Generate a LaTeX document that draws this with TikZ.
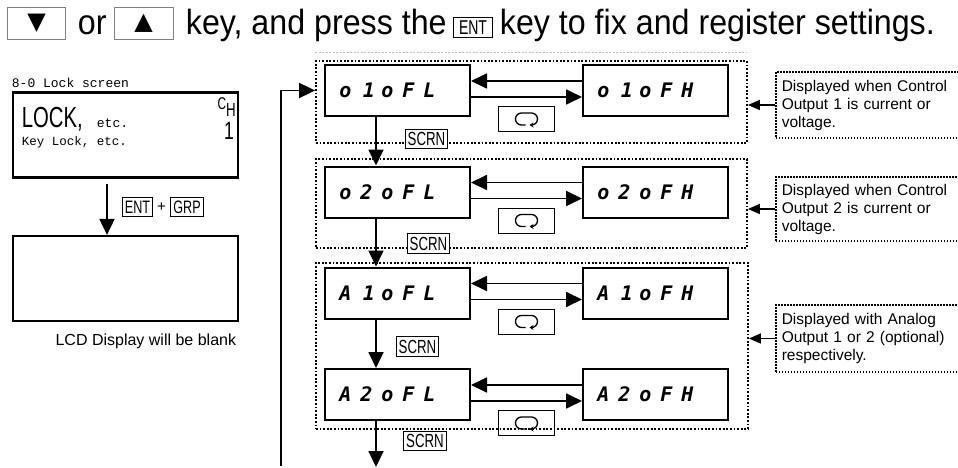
\documentclass[tikz,border=0pt]{standalone}
\usepackage{fontspec}
\setmainfont{Liberation Sans}
\newfontfamily\topfont{Liberation Sans}[FakeStretch=0.92]
\newfontfamily\narrowfont{Liberation Sans}[FakeStretch=0.7]
\newfontfamily\monofont{Liberation Mono}
\newfontfamily\segfont{DejaVu Sans Mono}
\newfontfamily\symfont{DejaVu Sans}
\usetikzlibrary{arrows.meta,calc}
\newcommand\sg[1]{\makebox[21pt]{#1}}
\newcommand\sgr[1]{\makebox[21pt][r]{#1\hspace{2pt}}}
\begin{document}
\begin{tikzpicture}[x=1pt, y=-1pt, line width=1.8pt,
    disp/.style={draw, line width=2pt, minimum height=51pt, text width=125pt, inner xsep=10pt,
      font=\segfont\bfseries\itshape\fontsize{20}{20}\selectfont},
    lcd/.style={draw, line width=2.2pt, minimum width=225pt, minimum height=85pt},
    arr/.style={-{Triangle[length=16pt,width=15pt]}, line width=1.8pt},
    narr/.style={-{Triangle[length=12pt,width=10pt]}, line width=1.5pt},
    key/.style={draw, line width=0.8pt, fill=white, inner xsep=2.5pt, inner ysep=3pt,
      font=\narrowfont\fontsize{19}{19}\selectfont},
    bigkey/.style={draw=gray, line width=0.8pt, minimum width=58pt, minimum height=32pt,
      font=\symfont\fontsize{24}{24}\selectfont},
    topline/.style={anchor=base west, inner sep=0pt, font=\topfont\fontsize{35}{35}\selectfont},
    mono/.style={inner sep=0pt, font=\monofont\fontsize{13}{13}\selectfont},
    grp/.style={draw, dash pattern=on 1.8pt off 1.8pt, line width=1.8pt},
    note/.style={draw, dash pattern=on 1.5pt off 1.5pt, line width=1.5pt, anchor=west, align=left,
      text width=186pt, inner xsep=6pt, font=\fontsize{15.5}{18}\selectfont},
    loopsym/.pic={\draw[line width=1.3pt, rounded corners=6pt, -{Stealth[length=4pt,width=5pt]}]
      (-1,6) -- (-11,6) -- (-11,-6) -- (11,-6) -- (11,6) -- (3,6);}]
  \useasboundingbox (0,0) rectangle (958,468);

  % top line
  \node[bigkey] (kdn) at (36.5,23) {▼};
  \node[topline] (tor) at (77,35) {or};
  \node[bigkey, minimum width=59pt] (kup) at (143.5,23) {▲};
  \node[topline] (tkey) at (185,35) {key, and press the};
  \node[draw, line width=0.8pt, minimum width=39pt, minimum height=20pt, inner sep=1pt,
    font=\narrowfont\fontsize{20}{20}\selectfont] (tent) at (473,27.5) {ENT};
  \node[topline] (tfix) at (499,35) {key to fix and register settings.};
  \draw[gray!50, line width=0.6pt, dash pattern=on 2pt off 1.5pt] (315,52) -- (747,52);

  % lock screen
  \node[mono, anchor=west] (title) at (11,83) {8-0 Lock screen};
  \node[lcd] (lcd1) at (125.5,135) {};
  \node[anchor=base west, inner sep=0pt, font=\narrowfont\fontsize{29}{29}\selectfont] (lock) at (21,128) {LOCK,};
  \node[mono, anchor=base west] (etc) at (96,128) {etc.};
  \node[mono, anchor=west, font=\monofont\fontsize{12.5}{12.5}\selectfont] (keylock) at (21,142) {Key Lock, etc.};
  \node[inner sep=0pt, font=\narrowfont\fontsize{17}{17}\selectfont] (chc) at (222,104) {C};
  \node[inner sep=0pt, font=\narrowfont\fontsize{19}{19}\selectfont] (chh) at (231,110) {H};
  \node[inner sep=0pt, font=\narrowfont\fontsize{25}{25}\selectfont] (chn) at (229,131) {1};
  \node[lcd] (lcd2) at (125.5,278.5) {};
  \draw[arr, shorten <=5pt] ([xshift=-18.5pt]lcd1.south) -- ([xshift=-18.5pt]lcd2.north);
  \node[key, font=\narrowfont\fontsize{18}{18}\selectfont] (kent) at (137.5,207) {ENT};
  \node[font=\fontsize{15}{15}\selectfont] (plus) at (161.5,207) {+};
  \node[key, font=\narrowfont\fontsize{18}{18}\selectfont] (kgrp) at (187,207) {GRP};
  \node[anchor=east, inner sep=0pt, font=\fontsize{16}{16}\selectfont] (blank) at (237,341) {LCD Display will be blank};

  % groups
  \node[grp, minimum width=431pt, minimum height=82pt] (g1) at (531.5,102) {};
  \node[grp, minimum width=431pt, minimum height=89pt] (g2) at (531.5,203.5) {};
  \node[grp, minimum width=432pt, minimum height=166pt] (g3) at (532,346) {};

  % displays
  \node[disp] (o1L) at (397.5,90.5) {\sg o\sgr1\sg o\sg F\sg L};
  \node[disp] (o1H) at (655.5,90.5) {\sg o\sgr1\sg o\sg F\sg H};
  \node[disp] (o2L) at (397.5,192) {\sg o\sg 2\sg o\sg F\sg L};
  \node[disp] (o2H) at (655.5,192) {\sg o\sg 2\sg o\sg F\sg H};
  \node[disp] (A1L) at (397.5,293) {\sg A\sgr1\sg o\sg F\sg L};
  \node[disp] (A1H) at (655.5,293) {\sg A\sgr1\sg o\sg F\sg H};
  \node[disp] (A2L) at (397.5,394.5) {\sg A\sg 2\sg o\sg F\sg L};
  \node[disp] (A2H) at (655.5,394.5) {\sg A\sg 2\sg o\sg F\sg H};

  \foreach \l/\h in {o1L/o1H, o2L/o2H, A1L/A1H, A2L/A2H} {
    \draw[arr] ([yshift=9.5pt]\h.west) -- ([yshift=9.5pt]\l.east);
    \draw[arr] ([yshift=-6.5pt]\l.east) -- ([yshift=-6.5pt]\h.west);
    \node[draw, line width=0.8pt, minimum width=56pt, minimum height=25pt, yshift=-28.5pt]
      (lp\l) at ($(\l.east)!0.5!(\h.west)$) {};
    \pic at (lp\l) {loopsym};
  }

  % scroll
  \draw[arr] ([xshift=-21.5pt]o1L.south) -- ([xshift=-21.5pt]o2L.north);
  \draw[arr] ([xshift=-21.5pt]o2L.south) -- ([xshift=-21.5pt]A1L.north);
  \draw[arr] ([xshift=-21.5pt]A1L.south) -- ([xshift=-21.5pt]A2L.north);
  \coordinate (down) at (376,467);
  \draw[arr] ([xshift=-21.5pt]A2L.south) -- (down);
  \node[key] (s1) at (426.5,139) {SCRN};
  \node[key] (s2) at (428.5,243.5) {SCRN};
  \node[key] (s3) at (417.5,346.5) {SCRN};
  \node[key] (s4) at (425,441) {SCRN};
  \coordinate (ret) at (281,466);
  \draw[arr] (ret) |- (g1.west |- o1L.center);

  % notes
  \node[note, minimum height=66pt] (n1) at (775,105) {Displayed when Control\\Output 1 is current or\\voltage.};
  \node[note, minimum height=64pt] (n2) at (775,209) {Displayed when Control\\Output 2 is current or\\voltage.};
  \node[note, minimum height=67pt] (n3) at (775,338.5) {Displayed with Analog\\Output 1 or 2 (optional)\\respectively.};
  \draw[narr] (n1.west) -- (n1.west -| g1.east);
  \draw[narr] (n2.west) -- (n2.west -| g2.east);
  \draw[narr] (n3.west) -- (n3.west -| g3.east);
\end{tikzpicture}
\end{document}
